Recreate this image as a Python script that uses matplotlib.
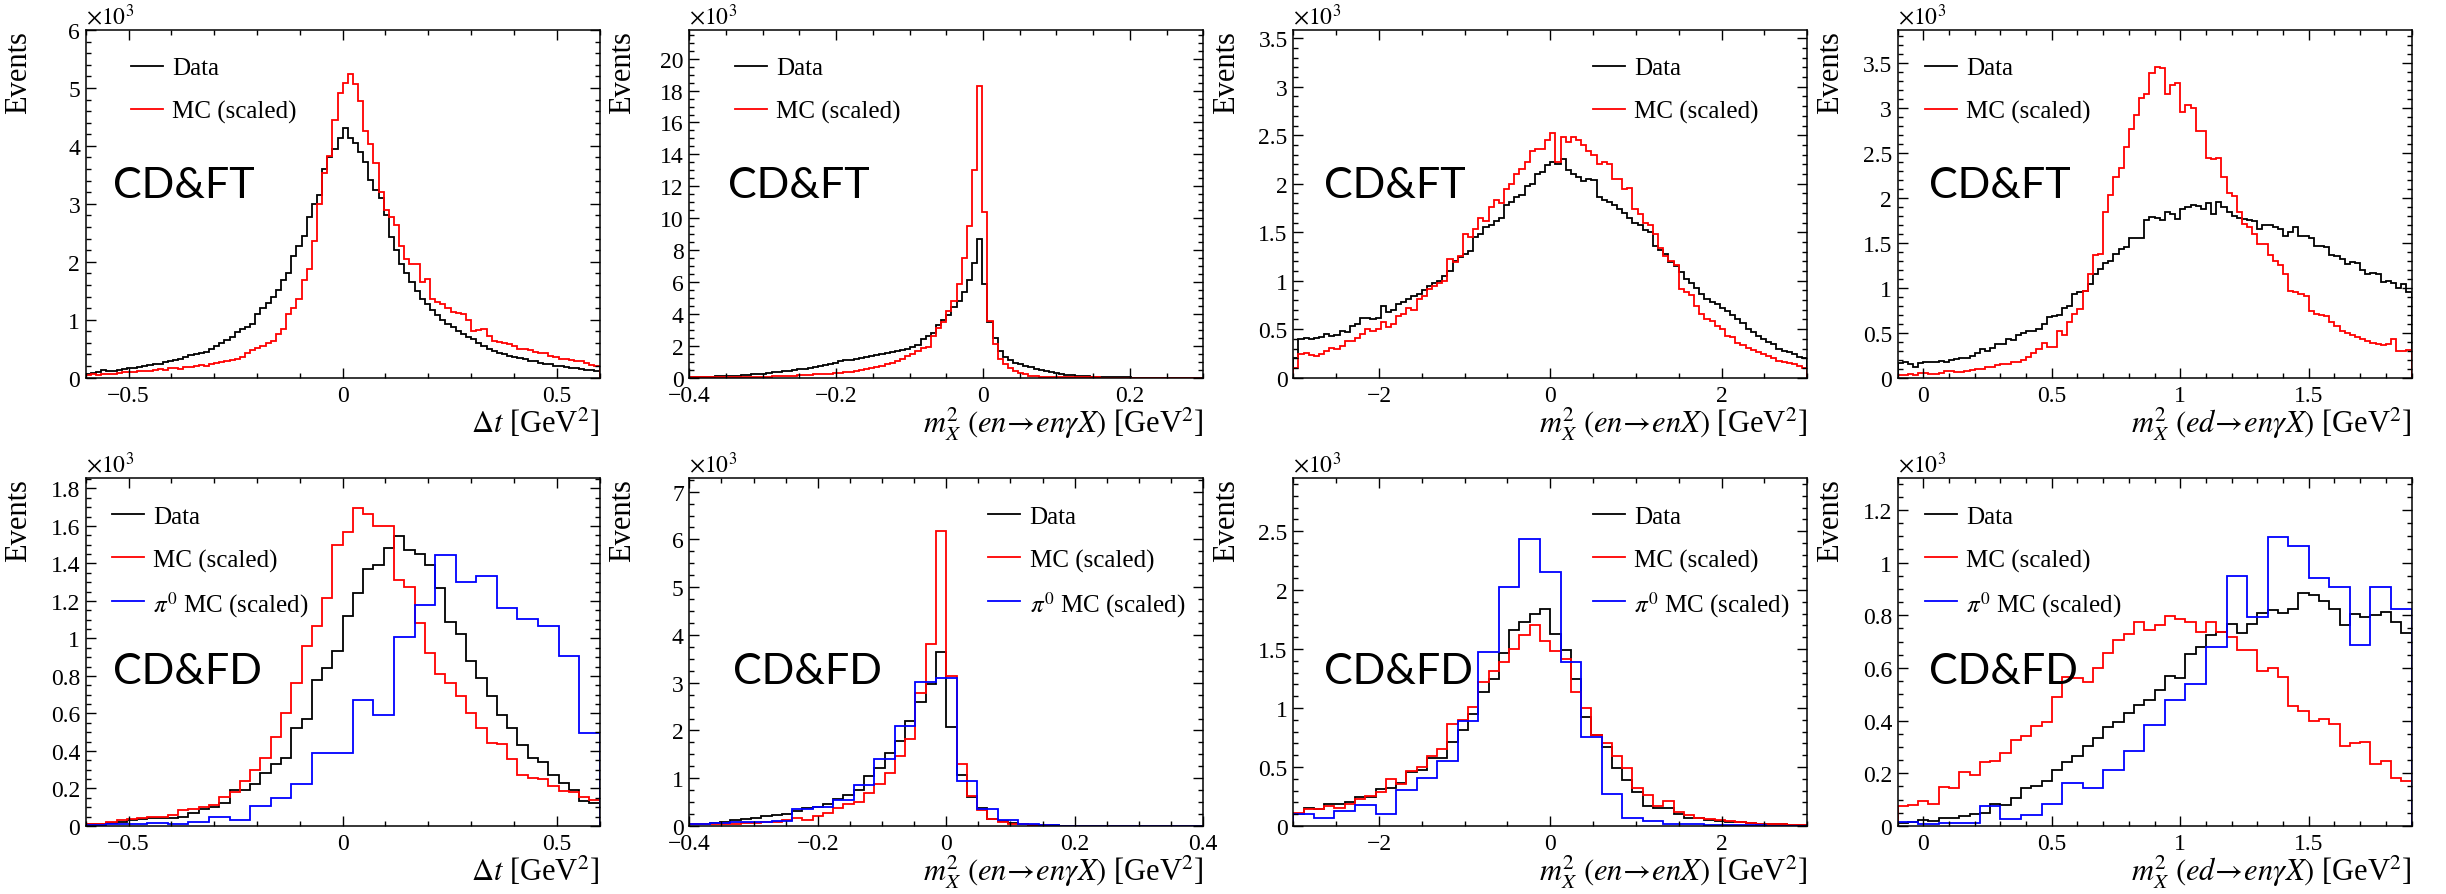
import numpy as np
import matplotlib
matplotlib.use("Agg")
from matplotlib import pyplot as plt
from matplotlib.ticker import MultipleLocator, FuncFormatter

plt.rcParams['font.family'] = ['Liberation Serif', 'DejaVu Serif']
plt.rcParams['mathtext.fontset'] = 'stix'

# ---- values in units of 10^3 events ----
# CD&FT, delta t, 100 bins on [-0.6, 0.6]
dt_ft_data = [0.07,0.08,0.10,0.13,0.11,0.12,0.14,0.15,0.16,0.17,
              0.18,0.20,0.22,0.24,0.24,0.27,0.29,0.30,0.33,0.36,
              0.39,0.40,0.42,0.45,0.50,0.55,0.60,0.65,0.70,0.78,
              0.84,0.87,0.93,1.10,1.20,1.28,1.40,1.52,1.68,1.80,
              2.10,2.28,2.45,2.77,3.00,3.15,3.60,3.80,3.95,4.13,
              4.30,4.13,4.05,3.90,3.73,3.41,3.24,3.10,2.80,2.43,
              2.20,1.97,1.80,1.65,1.50,1.36,1.27,1.16,1.08,1.00,
              0.93,0.87,0.80,0.75,0.70,0.66,0.60,0.55,0.50,0.46,
              0.43,0.41,0.38,0.36,0.34,0.32,0.29,0.28,0.26,0.24,
              0.23,0.21,0.20,0.18,0.17,0.16,0.15,0.14,0.13,0.12]
dt_ft_mc = [0.05,0.06,0.05,0.07,0.06,0.07,0.08,0.09,0.09,0.10,
            0.11,0.12,0.12,0.13,0.15,0.14,0.16,0.17,0.15,0.18,
            0.19,0.20,0.22,0.21,0.23,0.25,0.27,0.29,0.30,0.32,
            0.36,0.42,0.48,0.52,0.55,0.60,0.64,0.75,0.84,1.10,
            1.20,1.36,1.68,1.87,2.36,3.00,3.53,3.82,4.45,4.92,
            5.09,5.24,5.06,4.78,4.25,4.03,3.71,3.21,2.89,2.77,
            2.63,2.28,2.05,1.97,1.97,1.65,1.70,1.36,1.30,1.27,
            1.20,1.13,1.12,1.10,1.00,0.81,0.83,0.84,0.72,0.64,
            0.62,0.60,0.58,0.55,0.49,0.50,0.47,0.45,0.43,0.43,
            0.38,0.35,0.32,0.33,0.30,0.28,0.29,0.25,0.22,0.20]

# CD&FT, mX2 (en -> en gamma X), 100 bins on [-0.4, 0.3]
mx_engx_ft_data = [0.05,0.05,0.06,0.06,0.07,0.08,0.09,0.10,0.11,0.13,
                   0.15,0.17,0.20,0.23,0.26,0.30,0.33,0.37,0.40,0.44,
                   0.48,0.52,0.57,0.62,0.67,0.72,0.80,0.88,0.95,1.02,
                   1.08,1.12,1.17,1.22,1.28,1.33,1.40,1.47,1.55,1.62,
                   1.70,1.75,1.80,1.90,2.05,2.40,2.60,2.80,3.30,3.60,
                   3.90,4.40,4.80,5.40,6.10,7.20,8.70,5.90,3.50,2.50,
                   1.70,1.30,1.10,0.95,0.85,0.75,0.65,0.55,0.50,0.42,
                   0.35,0.28,0.22,0.18,0.15,0.12,0.10,0.08,0.06,0.05,
                   0.04,0.03,0.03,0.02,0.02,0.02,0.01,0.01,0.01,0.01,
                   0.01,0.01,0.01,0.01,0.01,0.01,0.01,0.01,0.01,0.01]
mx_engx_ft_mc = [0.02,0.02,0.02,0.02,0.03,0.03,0.03,0.03,0.04,0.04,
                 0.04,0.05,0.05,0.06,0.06,0.07,0.08,0.09,0.10,0.12,
                 0.13,0.15,0.16,0.18,0.20,0.22,0.24,0.26,0.28,0.30,
                 0.33,0.36,0.40,0.45,0.52,0.60,0.68,0.75,0.85,0.95,
                 1.05,1.20,1.35,1.50,1.70,1.85,1.95,2.60,3.10,3.50,
                 4.20,4.80,5.85,7.50,9.50,13.0,18.3,10.4,3.55,2.10,
                 1.20,0.85,0.60,0.42,0.30,0.20,0.13,0.08,0.05,0.03,
                 0.02,0.02,0.02,0.02,0.02,0.02,0.02,0.02,0.02,0.02,
                 0.01,0.01,0.01,0.01,0.01,0.01,0.01,0.01,0.01,0.01,
                 0.01,0.01,0.01,0.01,0.01,0.01,0.01,0.01,0.01,0.01]

# CD&FT, mX2 (en -> enX), 100 bins on [-3, 3]
mx_enx_ft_data = [0.20,0.40,0.41,0.40,0.41,0.42,0.45,0.43,0.44,0.48,
                  0.47,0.53,0.55,0.62,0.62,0.61,0.62,0.74,0.68,0.70,
                  0.76,0.78,0.81,0.84,0.86,0.90,0.95,0.98,1.00,1.05,
                  1.10,1.20,1.24,1.28,1.31,1.45,1.48,1.55,1.57,1.62,
                  1.65,1.78,1.81,1.86,1.88,1.98,2.00,2.10,2.12,2.19,
                  2.22,2.20,2.26,2.14,2.10,2.07,2.03,2.05,2.04,1.86,
                  1.83,1.81,1.78,1.74,1.70,1.65,1.60,1.57,1.52,1.50,
                  1.36,1.32,1.28,1.19,1.15,1.09,1.02,0.98,0.92,0.86,
                  0.81,0.78,0.76,0.72,0.69,0.65,0.60,0.56,0.50,0.47,
                  0.43,0.40,0.37,0.35,0.30,0.28,0.26,0.24,0.21,0.20]
mx_enx_ft_mc = [0.10,0.24,0.25,0.23,0.22,0.24,0.28,0.31,0.30,0.33,
                0.38,0.38,0.41,0.45,0.50,0.48,0.50,0.57,0.52,0.55,
                0.64,0.66,0.72,0.70,0.81,0.84,0.91,0.95,0.98,1.00,
                1.22,1.19,1.25,1.48,1.45,1.53,1.65,1.62,1.76,1.83,
                1.80,1.95,2.00,2.10,2.15,2.22,2.34,2.36,2.36,2.45,
                2.52,2.22,2.48,2.43,2.48,2.45,2.40,2.34,2.30,2.20,
                2.22,2.20,2.05,2.05,1.95,1.96,1.74,1.69,1.60,1.57,
                1.48,1.34,1.26,1.20,1.16,0.91,0.88,0.85,0.74,0.66,
                0.60,0.58,0.53,0.50,0.43,0.42,0.36,0.34,0.31,0.29,
                0.26,0.24,0.22,0.20,0.17,0.16,0.15,0.14,0.12,0.10]

# CD&FT, mX2 (ed -> en gamma X), 100 bins on [-0.1, 1.9]
mx_edgx_ft_data = [0.16,0.17,0.15,0.12,0.16,0.17,0.18,0.18,0.19,0.18,
                   0.20,0.21,0.22,0.22,0.24,0.28,0.32,0.30,0.33,0.37,
                   0.38,0.43,0.42,0.48,0.50,0.52,0.52,0.54,0.60,0.67,
                   0.69,0.70,0.78,0.80,0.93,0.95,0.97,1.04,1.15,1.21,
                   1.28,1.30,1.38,1.43,1.45,1.55,1.56,1.55,1.75,1.79,
                   1.78,1.75,1.84,1.82,1.77,1.88,1.90,1.92,1.91,1.88,
                   1.94,1.82,1.95,1.90,1.84,1.80,1.78,1.77,1.75,1.74,
                   1.66,1.70,1.70,1.68,1.66,1.58,1.62,1.68,1.58,1.58,
                   1.55,1.47,1.47,1.45,1.36,1.35,1.32,1.27,1.29,1.28,
                   1.20,1.15,1.17,1.15,1.06,1.08,1.05,1.00,1.04,0.95]
mx_edgx_ft_mc = [0.03,0.03,0.04,0.03,0.05,0.05,0.04,0.04,0.05,0.07,
                 0.07,0.06,0.06,0.07,0.09,0.10,0.10,0.12,0.12,0.14,
                 0.15,0.15,0.17,0.17,0.20,0.23,0.27,0.32,0.39,0.34,
                 0.34,0.52,0.48,0.62,0.71,0.76,0.97,1.15,1.36,1.38,
                 1.84,2.03,2.23,2.33,2.57,2.77,2.92,3.11,3.16,3.39,
                 3.46,3.45,3.16,3.26,3.28,2.96,3.03,3.00,2.74,2.74,
                 2.45,2.43,2.44,2.23,2.05,2.02,1.84,1.71,1.68,1.60,
                 1.49,1.49,1.37,1.30,1.25,1.15,0.97,0.95,0.93,0.91,
                 0.74,0.71,0.70,0.69,0.62,0.58,0.52,0.50,0.48,0.45,
                 0.43,0.41,0.39,0.37,0.36,0.37,0.43,0.30,0.30,0.31]

# CD&FD: data / MC with 50 bins, pi0 MC with 25 bins
dt_fd_data = [0.01,0.01,0.015,0.02,0.03,0.035,0.04,0.045,0.045,0.05,
              0.07,0.09,0.10,0.12,0.19,0.19,0.225,0.28,0.33,0.365,
              0.52,0.57,0.78,0.84,0.935,1.12,1.24,1.37,1.39,1.48,
              1.545,1.47,1.45,1.39,1.27,1.09,1.025,0.88,0.79,0.695,
              0.59,0.52,0.43,0.365,0.34,0.27,0.23,0.19,0.135,0.12]
dt_fd_mc = [0.01,0.01,0.02,0.03,0.035,0.045,0.05,0.05,0.06,0.085,
            0.09,0.10,0.11,0.155,0.18,0.24,0.30,0.365,0.475,0.60,
            0.76,0.96,1.065,1.215,1.50,1.565,1.695,1.665,1.60,1.60,
            1.31,1.275,1.08,0.925,0.81,0.76,0.695,0.605,0.52,0.445,
            0.435,0.355,0.27,0.255,0.25,0.215,0.185,0.18,0.155,0.14]
dt_fd_pi0 = [0.005,0.01,0.012,0.018,0.008,0.023,0.048,0.03,0.107,0.148,
             0.223,0.387,0.387,0.672,0.592,1.007,1.18,1.444,1.301,1.332,
             1.162,1.105,1.064,0.909,0.494]

mx_engx_fd_data = [0.05,0.05,0.07,0.09,0.12,0.14,0.17,0.21,0.22,0.245,
                   0.315,0.385,0.40,0.455,0.56,0.64,0.75,1.05,1.22,1.52,
                   1.78,2.20,2.59,2.975,3.65,2.08,1.065,0.61,0.385,0.155,
                   0.10,0.06,0.04,0.025,0.02,0.015,0.01,0.008,0.006,0.005,
                   0.005,0.004,0.004,0.003,0.003,0.003,0.002,0.002,0.002,0.002]
mx_engx_fd_mc = [0.035,0.035,0.05,0.05,0.05,0.07,0.07,0.085,0.085,0.12,
                 0.16,0.12,0.21,0.28,0.385,0.455,0.50,0.70,0.88,1.10,
                 1.47,1.82,2.78,3.82,6.17,3.15,1.30,0.63,0.33,0.15,
                 0.09,0.05,0.035,0.02,0.015,0.01,0.01,0.008,0.006,0.005,
                 0.005,0.004,0.004,0.003,0.003,0.003,0.002,0.002,0.002,0.002]
mx_engx_fd_pi0 = [0.05,0.07,0.09,0.09,0.105,0.35,0.40,0.55,0.86,1.40,
                  2.10,3.02,3.10,0.95,0.36,0.12,0.035,0.015,0.01,0.005,
                  0.004,0.003,0.003,0.002,0.002]

mx_enx_fd_data = [0.105,0.156,0.147,0.184,0.19,0.20,0.247,0.247,0.312,0.326,
                  0.368,0.46,0.473,0.58,0.58,0.71,0.81,0.95,1.14,1.247,
                  1.465,1.66,1.73,1.794,1.842,1.63,1.488,1.247,0.92,0.774,
                  0.666,0.488,0.388,0.29,0.17,0.15,0.15,0.10,0.07,0.065,
                  0.05,0.04,0.035,0.03,0.025,0.02,0.015,0.015,0.01,0.01]
mx_enx_fd_mc = [0.113,0.147,0.147,0.17,0.156,0.19,0.227,0.255,0.29,0.397,
                0.354,0.468,0.50,0.595,0.652,0.865,0.90,1.006,1.22,1.318,
                1.39,1.50,1.62,1.70,1.567,1.482,1.417,1.14,1.0,0.77,
                0.70,0.59,0.49,0.32,0.26,0.17,0.21,0.12,0.09,0.07,
                0.06,0.05,0.04,0.03,0.025,0.02,0.02,0.015,0.01,0.01]
mx_enx_fd_pi0 = [0.10,0.07,0.128,0.18,0.10,0.303,0.41,0.547,0.893,1.474,
                 2.027,2.43,2.154,1.389,0.751,0.27,0.065,0.043,0.02,0.014,
                 0.008,0.005,0.005,0.004,0.003]

mx_edgx_fd_data = [0.013,0.017,0.022,0.019,0.032,0.032,0.038,0.044,0.051,0.085,
                   0.08,0.105,0.146,0.152,0.171,0.212,0.241,0.267,0.305,0.334,
                   0.377,0.394,0.429,0.461,0.479,0.517,0.568,0.563,0.651,0.679,
                   0.724,0.737,0.768,0.734,0.768,0.809,0.819,0.809,0.825,0.883,
                   0.876,0.855,0.824,0.764,0.806,0.794,0.80,0.813,0.775,0.733]
mx_edgx_fd_mc = [0.074,0.079,0.095,0.083,0.149,0.146,0.206,0.193,0.241,0.248,
                 0.276,0.326,0.343,0.378,0.394,0.489,0.565,0.563,0.546,0.60,
                 0.658,0.707,0.73,0.775,0.745,0.762,0.796,0.787,0.775,0.735,
                 0.775,0.737,0.717,0.667,0.667,0.587,0.60,0.565,0.457,0.438,
                 0.40,0.406,0.387,0.305,0.314,0.317,0.235,0.248,0.184,0.171]
mx_edgx_fd_pi0 = [0.015,0.009,0.01,0.01,0.076,0.025,0.04,0.083,0.165,0.146,
                  0.212,0.286,0.385,0.48,0.54,0.68,0.95,0.794,1.096,1.064,
                  0.94,0.908,0.686,0.908,0.825]

xlab_dt = r'$\mathit{Δt}$ [GeV$^{2}$]'
xlab_engx = r'$m_{X}^{2}$ $(en\!\rightarrow\! en\gamma X)$ [GeV$^{2}$]'
xlab_enx = r'$m_{X}^{2}$ $(en\!\rightarrow\! enX)$ [GeV$^{2}$]'
xlab_edgx = r'$m_{X}^{2}$ $(ed\!\rightarrow\! en\gamma X)$ [GeV$^{2}$]'

# panel: (xlo, xhi, ymax, xmaj, xmin, ymaj, ymin, xlabel, tag, tagx, legx, series)
panels = [
    (-0.6, 0.6, 6.0, 0.5, 0.1, 1, 0.2, xlab_dt, 'CD&FT', 0.0535, 0.088, [dt_ft_data, dt_ft_mc]),
    (-0.4, 0.3, 21.8, 0.2, 0.05, 2, 0.5, xlab_engx, 'CD&FT', 0.075, 0.089, [mx_engx_ft_data, mx_engx_ft_mc]),
    (-3, 3, 3.586, 2, 0.5, 0.5, 0.1, xlab_enx, 'CD&FT', 0.060, 0.583, [mx_enx_ft_data, mx_enx_ft_mc]),
    (-0.1, 1.9, 3.87, 0.5, 0.1, 0.5, 0.1, xlab_edgx, 'CD&FT', 0.062, 0.053, [mx_edgx_ft_data, mx_edgx_ft_mc]),
    (-0.6, 0.6, 1.854, 0.5, 0.1, 0.2, 0.05, xlab_dt, 'CD&FD', 0.0535, 0.051, [dt_fd_data, dt_fd_mc, dt_fd_pi0]),
    (-0.4, 0.4, 7.28, 0.2, 0.05, 1, 0.25, xlab_engx, 'CD&FD', 0.085, 0.582, [mx_engx_fd_data, mx_engx_fd_mc, mx_engx_fd_pi0]),
    (-3, 3, 2.948, 2, 0.5, 0.5, 0.1, xlab_enx, 'CD&FD', 0.060, 0.583, [mx_enx_fd_data, mx_enx_fd_mc, mx_enx_fd_pi0]),
    (-0.1, 1.9, 1.32, 0.5, 0.1, 0.2, 0.05, xlab_edgx, 'CD&FD', 0.062, 0.053, [mx_edgx_fd_data, mx_edgx_fd_mc, mx_edgx_fd_pi0]),
]

colors = ['black', '#ff0000', '#0000ff']
labels = ['Data', 'MC (scaled)', r'$\pi^{\mathit{0}}$ MC (scaled)']

fig = plt.figure(figsize=(24.46, 8.95), dpi=100)
lefts = [0.03504, 0.28181, 0.52874, 0.77580]
bottoms = [0.5769, 0.0760]
W, H = 0.2101, 0.3885

for i, (xlo, xhi, ymax, xmaj, xmin, ymaj, ymin, xlab, tag, tagx, legx, series) in enumerate(panels):
    ax = fig.add_axes([lefts[i % 4], bottoms[i // 4], W, H])
    for k, vals in enumerate(series):
        edges = np.linspace(xlo, xhi, len(vals) + 1)
        ax.stairs(vals, edges, color=colors[k], lw=1.3, baseline=0)
    ax.set_xlim(xlo, xhi)
    ax.set_ylim(0, ymax)
    ax.xaxis.set_major_locator(MultipleLocator(xmaj))
    ax.xaxis.set_minor_locator(MultipleLocator(xmin))
    ax.yaxis.set_major_locator(MultipleLocator(ymaj))
    ax.yaxis.set_minor_locator(MultipleLocator(ymin))
    fmt = FuncFormatter(lambda v, p: ('%g' % round(v, 6)).replace('-', '\u2212'))
    ax.xaxis.set_major_formatter(fmt)
    ax.yaxis.set_major_formatter(fmt)
    ax.tick_params(which='both', direction='in', top=True, right=True, width=1.0)
    ax.tick_params(which='major', length=7.5, labelsize=17)
    ax.tick_params(which='minor', length=3.8)
    ax.tick_params(axis='x', which='major', pad=5)
    ax.tick_params(axis='y', which='major', pad=4)
    for s in ax.spines.values():
        s.set_linewidth(1.1)

    ax.set_xlabel(xlab, fontsize=22, loc='right')
    ax.xaxis.label.set_va('baseline')
    ax.xaxis.set_label_coords(1.0, -0.155)
    ax.set_ylabel('Events', fontsize=22, loc='top')
    ax.yaxis.set_label_coords(-0.102, 1.0)
    ax.text(0.0, 1.004, r'$\times10^{3}$', transform=ax.transAxes, fontsize=17,
            ha='left', va='bottom')

    ax.text(tagx, 0.519 if i < 4 else 0.412, tag, transform=ax.transAxes,
            fontsize=31, family=['Lato', 'DejaVu Sans'], va='baseline', ha='left')

    for k in range(len(series)):
        y = 0.897 - 0.1246 * k
        ax.plot([legx, legx + 0.0623], [y, y], color=colors[k], lw=1.3,
                transform=ax.transAxes)
        ax.text(legx + 0.080, y, labels[k], transform=ax.transAxes,
                fontsize=18, va='center_baseline', ha='left')

fig.savefig('out.png', dpi=100)
